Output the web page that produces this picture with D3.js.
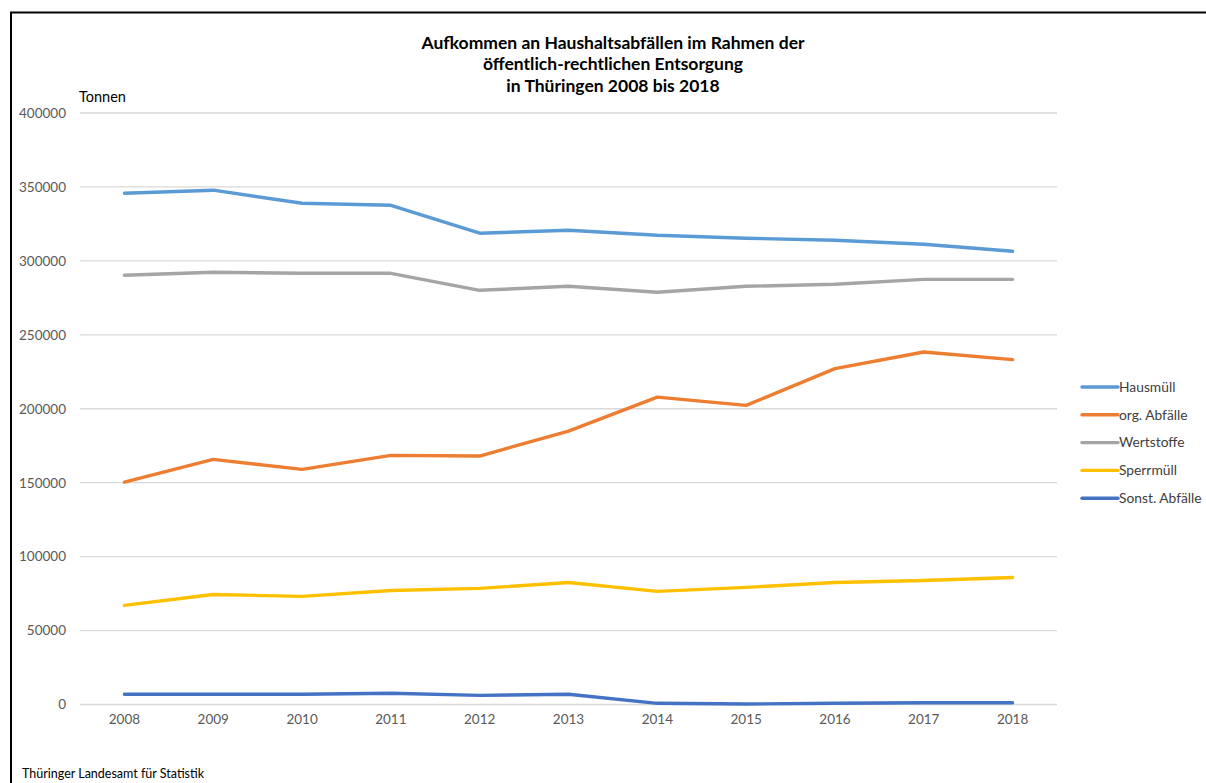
<!DOCTYPE html>
<html>
<head>
<meta charset="utf-8">
<script src="https://cdn.jsdelivr.net/npm/d3@7"></script>
<style>
  html,body{margin:0;padding:0;background:#fff;}
  svg{display:block;font-family:Lato,"Open Sans",sans-serif;}
</style>
</head>
<body>
<svg id="chart" width="1206" height="783"></svg>
<script>
// ── Data ──
const years=['2008','2009','2010','2011','2012','2013','2014','2015','2016','2017','2018'];
const hausmuell=[345700,347800,339000,337600,318700,320700,317300,315300,313900,311200,306500];
const orgAbfaelle=[150400,165800,159000,168500,168000,184900,207900,202300,227100,238400,233200];
const wertstoffe=[290300,292300,291600,291600,280100,282800,278800,282800,284200,287500,287500];
const sperrmuell=[67000,74400,73100,77100,78500,82500,76500,79200,82500,83900,85900];
const sonstAbfaelle=[6900,6900,6900,7600,6200,6900,800,300,800,1200,1200];
const seriesNames=['Hausmüll','org. Abfälle','Wertstoffe','Sperrmüll','Sonst. Abfälle'];
const yTicks=[0,50000,100000,150000,200000,250000,300000,350000,400000];
const titleLines=['Aufkommen an Haushaltsabfällen im Rahmen der','öffentlich-rechtlichen Entsorgung','in Thüringen 2008 bis 2018'];

const series=[
  {name:seriesNames[0],values:hausmuell,color:'#5b9bd5'},
  {name:seriesNames[1],values:orgAbfaelle,color:'#ed7d31'},
  {name:seriesNames[2],values:wertstoffe,color:'#a5a5a5'},
  {name:seriesNames[3],values:sperrmuell,color:'#ffc000'},
  {name:seriesNames[4],values:sonstAbfaelle,color:'#4472c4'}
];

const svg=d3.select('#chart');
const M={left:80,right:1057,top:113,bottom:704.5};

// frame (left + top edges only)
svg.append('path')
  .attr('d','M11,783 V12.5 H1206')
  .attr('fill','none').attr('stroke','#000').attr('stroke-width',2);

const x=d3.scaleBand().domain(years).range([M.left,M.right]);
const y=d3.scaleLinear().domain([0,400000]).range([M.bottom,M.top]);

// gridlines
svg.append('g').selectAll('line').data(yTicks).join('line')
  .attr('x1',M.left).attr('x2',M.right)
  .attr('y1',d=>y(d)).attr('y2',d=>y(d))
  .attr('stroke','#d9d9d9').attr('stroke-width',1.3);

// y axis labels
const yAxis=d3.axisLeft(y).tickValues(yTicks).tickSize(0).tickPadding(0).tickFormat(d3.format('d'));
svg.append('g').attr('transform','translate(66,0)').call(yAxis)
  .call(g=>g.select('.domain').remove())
  .call(g=>g.selectAll('text').attr('fill','#595959').attr('font-size',13.5).attr('font-family','Lato,sans-serif'));

// x axis labels
const xAxis=d3.axisBottom(x).tickSize(0).tickPadding(0);
svg.append('g').attr('transform','translate(0,714)').call(xAxis)
  .call(g=>g.select('.domain').remove())
  .call(g=>g.selectAll('text').attr('fill','#595959').attr('font-size',13.5).attr('font-family','Lato,sans-serif'));

// lines
const line=d3.line().x((d,i)=>x(years[i])+x.bandwidth()/2).y(d=>y(d));
svg.append('g').selectAll('path').data(series).join('path')
  .attr('d',s=>line(s.values))
  .attr('fill','none').attr('stroke',s=>s.color)
  .attr('stroke-width',3.4).attr('stroke-linecap','round').attr('stroke-linejoin','round');

// title
svg.append('g').selectAll('text').data(titleLines).join('text')
  .attr('x',613).attr('y',(d,i)=>48.5+i*21.5)
  .attr('text-anchor','middle').attr('font-weight','bold').attr('font-size',17.5)
  .attr('fill','#000').text(d=>d);

// unit label
svg.append('text').attr('x',79).attr('y',102).attr('font-size',14.5).attr('fill','#000').text('Tonnen');

// legend
const leg=svg.append('g').selectAll('g').data(series).join('g')
  .attr('transform',(d,i)=>`translate(1082,${387+i*27.8})`);
leg.append('line').attr('x1',0).attr('x2',36).attr('stroke',d=>d.color)
  .attr('stroke-width',3.4).attr('stroke-linecap','round');
leg.append('text').attr('x',37).attr('y',4.8).attr('font-size',13.8).attr('fill','#404040').text(d=>d.name);

// source
svg.append('text').attr('x',22).attr('y',778).attr('font-size',12.5).attr('fill','#000').text('Thüringer Landesamt für Statistik');
</script>
</body>
</html>
